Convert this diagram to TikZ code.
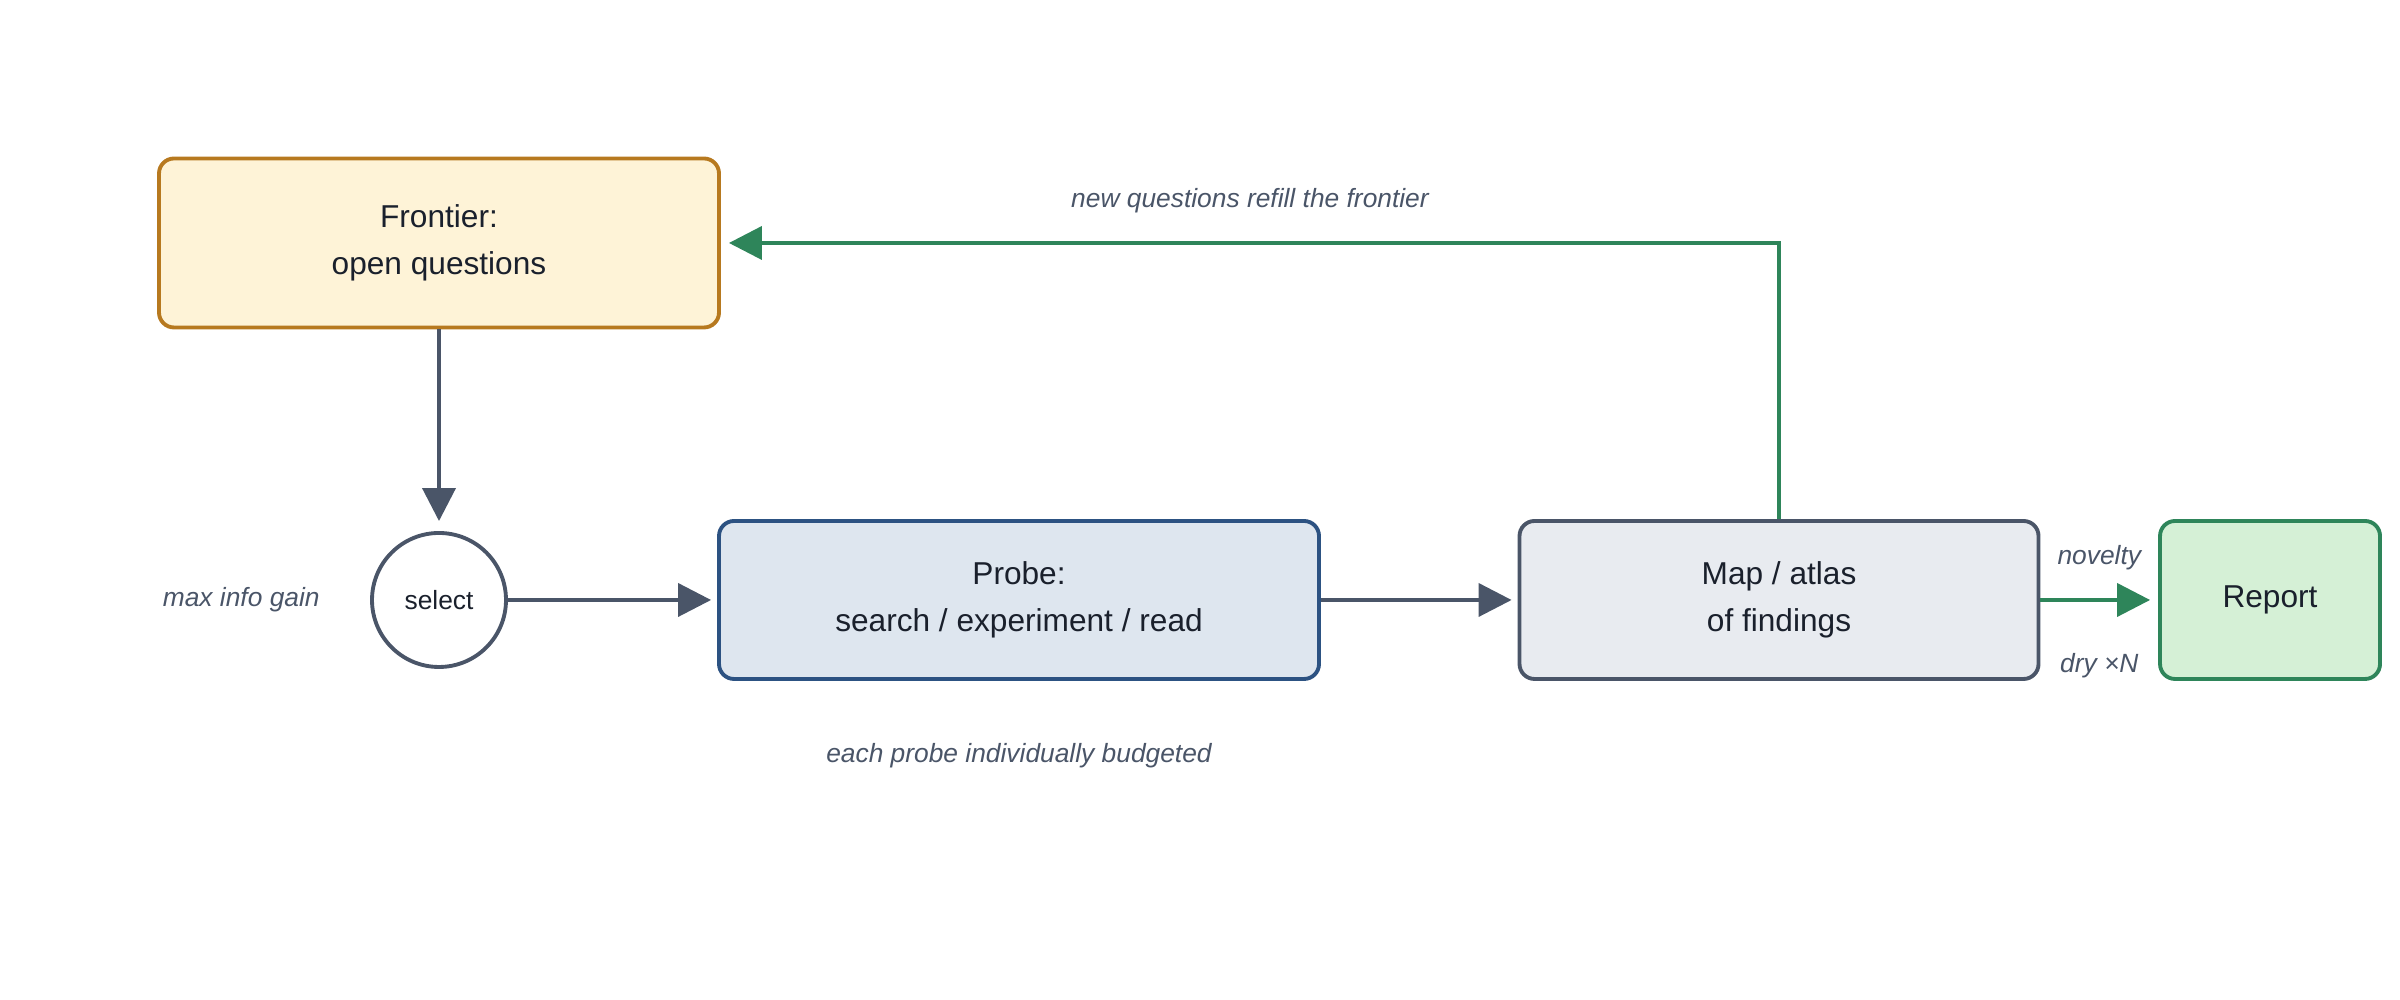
\documentclass[tikz,border=0pt]{standalone}
\usepackage{fontspec}
\setmainfont{Liberation Sans}
\usetikzlibrary{arrows.meta,positioning}

\definecolor{inkc}{HTML}{1A202C}
\definecolor{slatec}{HTML}{4A5568}
\definecolor{amberc}{HTML}{B7791F}
\definecolor{amberf}{HTML}{FEF3D7}
\definecolor{bluec}{HTML}{2C5282}
\definecolor{bluef}{HTML}{DEE6EF}
\definecolor{grayf}{HTML}{E8EBF0}
\definecolor{greenc}{HTML}{2E855A}
\definecolor{greenf}{HTML}{D5F0D6}

\begin{document}
\begin{tikzpicture}[
    box/.style={draw, line width=1.1pt, rounded corners=0.15cm, align=center,
                text=inkc, font=\fontsize{9}{13.2}\selectfont, inner sep=0pt},
    note/.style={text=slatec, font=\fontsize{7.5}{9}\selectfont\itshape},
    flow/.style={draw=slatec, line width=1.1pt, -{Triangle[length=0.33cm, width=0.33cm]}},
    back/.style={draw=greenc, line width=1.1pt, -{Triangle[length=0.33cm, width=0.33cm]}}
]
    \useasboundingbox (0,0) rectangle (24,10);

    \node[box, draw=amberc, fill=amberf, minimum width=5.6cm, minimum height=1.69cm]
        (front) at (4.39,7.57) {Frontier:\\open questions};
    \node[draw=slatec, line width=1.1pt, circle, minimum size=1.34cm, inner sep=0pt,
          text=inkc, font=\fontsize{7.5}{9}\selectfont]
        (sel) at (4.39,4) {select};
    \node[box, draw=bluec, fill=bluef, minimum width=6cm, minimum height=1.58cm]
        (probe) at (10.19,4) {Probe:\\search / experiment / read};
    \node[box, draw=slatec, fill=grayf, minimum width=5.19cm, minimum height=1.58cm]
        (atlas) at (17.79,4) {Map / atlas\\of findings};
    \node[box, draw=greenc, fill=greenf, minimum width=2.2cm, minimum height=1.58cm]
        (report) at (22.7,4) {Report};

    \node[note, left=0.38cm of sel] (gain) {max info gain};
    \node[note, below=0.5cm of probe] (budget) {each probe individually budgeted};

    \draw[flow, shorten >=0.1cm] (front) -- (sel);
    \draw[flow, shorten >=0.06cm] (sel) -- (probe);
    \draw[flow, shorten >=0.06cm] (probe) -- (atlas);
    \draw[back, shorten >=0.08cm] (atlas) -- (report)
        node[note, midway, above=0.16cm] {novelty}
        node[note, midway, below=0.4cm] {dry ×N};

    % findings feed new questions back into the frontier
    \draw[back, shorten >=0.08cm] (atlas.north) -- (atlas.north |- front.east) -- (front.east)
        node[note, pos=0.5, above=0.16cm] {new questions refill the frontier};
\end{tikzpicture}
\end{document}
